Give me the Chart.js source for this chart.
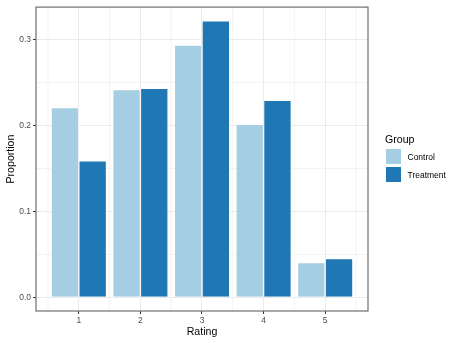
<!DOCTYPE html>
<html>
<head>
<meta charset="utf-8">
<script src="https://cdn.jsdelivr.net/npm/chart.js@4.4.1/dist/chart.umd.min.js"></script>
<style>
  html, body { margin: 0; padding: 0; background: #fff; }
  #wrap { position: relative; width: 457px; height: 343px; font-family: "Liberation Sans", Arial, sans-serif; }
  #chart { position: absolute; left: 0; top: 0; }
  .lg { position: absolute; white-space: nowrap; }
  .lg-title { left: 385px; top: 132px; font-size: 10.6px; line-height: 14px; color: #000; }
  .lg-sw { left: 385.5px; width: 15.5px; height: 15px; }
  .lg-txt { left: 407.5px; font-size: 8.5px; line-height: 12px; color: #000; }
</style>
</head>
<body>
<div id="wrap">
  <canvas id="chart" width="457" height="343"></canvas>
  <div id="legend"></div>
</div>
<script>
// Data
const ratings = [1, 2, 3, 4, 5];
const groups = ['Control', 'Treatment'];
const controlValues = [0.221, 0.242, 0.294, 0.2015, 0.0405];
const treatmentValues = [0.159, 0.2435, 0.322, 0.2296, 0.0451];
const yTickLabels = ['0.0', '0.1', '0.2', '0.3'];
const xTickLabels = ['1', '2', '3', '4', '5'];

const groupColors = ['#A6CEE3', '#1F78B4'];
const gridColor = '#EBEBEB';
const axisTextColor = '#4D4D4D';

// ggplot-style limits: bars span 0.55..5.45, plus 5% expansion
const xMin = 0.55 - 0.05 * 4.9;
const xMax = 5.45 + 0.05 * 4.9;
const yTop = Math.max(...controlValues, ...treatmentValues);
const yMin = -0.05 * yTop;
const yMax = yTop * 1.05;

const isMajorY = v => Math.abs(Math.round(v * 100) % 10) < 1e-6;

// minor vertical grid lines at half steps + panel border
const panelPlugin = {
    id: 'panel',
    beforeDatasetsDraw(chart) {
        const {ctx, chartArea, scales: {x}} = chart;
        ctx.save();
        ctx.strokeStyle = gridColor;
        ctx.lineWidth = 0.6;
        for (let v = 0.5; v <= 5.5; v += 1) {
            const px = x.getPixelForValue(v);
            ctx.beginPath();
            ctx.moveTo(px, chartArea.top);
            ctx.lineTo(px, chartArea.bottom);
            ctx.stroke();
        }
        ctx.restore();
    },
    afterDraw(chart) {
        const {ctx, chartArea} = chart;
        ctx.save();
        ctx.strokeStyle = '#6e6e6e';
        ctx.lineWidth = 1.2;
        ctx.strokeRect(chartArea.left, chartArea.top,
            chartArea.right - chartArea.left, chartArea.bottom - chartArea.top);
        ctx.restore();
    }
};

const font = { family: '"Liberation Sans", Arial, sans-serif' };

new Chart(document.getElementById('chart').getContext('2d'), {
    type: 'bar',
    data: {
        datasets: [
            {
                label: groups[0],
                data: ratings.map((r, i) => ({ x: r, y: controlValues[i] })),
                backgroundColor: groupColors[0],
                borderColor: '#ffffff',
                borderWidth: 0.7
            },
            {
                label: groups[1],
                data: ratings.map((r, i) => ({ x: r, y: treatmentValues[i] })),
                backgroundColor: groupColors[1],
                borderColor: '#ffffff',
                borderWidth: 0.7
            }
        ]
    },
    options: {
        responsive: false,
        animation: false,
        categoryPercentage: 0.9,
        barPercentage: 1.0,
        layout: { padding: { left: 0, top: 5, right: 89, bottom: 0 } },
        plugins: {
            legend: { display: false },
            tooltip: { enabled: false }
        },
        scales: {
            x: {
                type: 'linear',
                min: xMin,
                max: xMax,
                offset: false,
                afterFit: scale => { scale.height = 32; },
                border: { display: false },
                grid: {
                    offset: false,
                    color: gridColor,
                    lineWidth: 1,
                    tickLength: 3,
                    tickColor: '#333333',
                    tickWidth: 1
                },
                ticks: {
                    stepSize: 1,
                    includeBounds: false,
                    padding: 2,
                    color: axisTextColor,
                    font: { ...font, size: 8.5 },
                    maxRotation: 0,
                    callback: v => xTickLabels[ratings.indexOf(v)] ?? ''
                },
                title: {
                    display: true,
                    text: 'Rating',
                    color: '#000',
                    font: { ...font, size: 10.6 },
                    padding: { top: 0, bottom: 5 }
                }
            },
            y: {
                min: yMin,
                max: yMax,
                afterFit: scale => { scale.width = 36; },
                border: { display: false },
                grid: {
                    color: gridColor,
                    lineWidth: ctx => isMajorY(ctx.tick.value) ? 1 : 0.6,
                    tickLength: 3,
                    tickColor: ctx => isMajorY(ctx.tick.value) ? '#333333' : 'rgba(0,0,0,0)',
                    tickWidth: 1
                },
                ticks: {
                    stepSize: 0.05,
                    includeBounds: false,
                    padding: 2,
                    color: axisTextColor,
                    font: { ...font, size: 8.5 },
                    callback: v => isMajorY(v) ? yTickLabels[Math.round(v * 10)] : ''
                },
                title: {
                    display: true,
                    text: 'Proportion',
                    color: '#000',
                    font: { ...font, size: 10.6 },
                    padding: { top: 4.5, bottom: 0 }
                }
            }
        }
    },
    plugins: [panelPlugin]
});

// Legend (ggplot-style keys)
const legend = document.getElementById('legend');
const title = document.createElement('div');
title.className = 'lg lg-title';
title.textContent = 'Group';
legend.appendChild(title);
groups.forEach((g, i) => {
    const top = 149.3 + i * 17.3;
    const sw = document.createElement('div');
    sw.className = 'lg lg-sw';
    sw.style.top = top + 'px';
    sw.style.background = groupColors[i];
    legend.appendChild(sw);
    const txt = document.createElement('div');
    txt.className = 'lg lg-txt';
    txt.style.top = (top + 2) + 'px';
    txt.textContent = g;
    legend.appendChild(txt);
});
</script>
</body>
</html>
